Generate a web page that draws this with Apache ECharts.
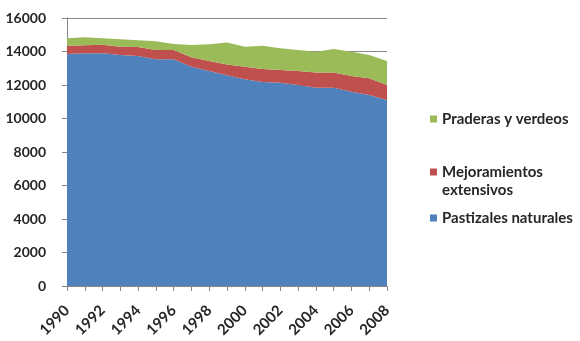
<!DOCTYPE html>
<html>
<head>
<meta charset="utf-8">
<script src="https://cdn.jsdelivr.net/npm/echarts@6/dist/echarts.min.js"></script>
<style>html,body{margin:0;padding:0;background:#fff;}#c{width:580px;height:341px;}</style>
</head>
<body>
<div id="c"></div>
<script>
var years = ['1990','1991','1992','1993','1994','1995','1996','1997','1998','1999','2000','2001','2002','2003','2004','2005','2006','2007','2008'];
var pastizales = [13850,13890,13890,13790,13730,13530,13530,13090,12840,12580,12340,12180,12140,12000,11840,11840,11600,11400,11100];
var mejoramientos = [500,480,520,500,540,560,560,560,590,650,750,770,760,840,900,900,940,1000,900];
var praderas = [440,480,380,440,400,520,360,740,1000,1300,1200,1400,1290,1250,1250,1410,1450,1390,1430];
var yTicks = [0,2000,4000,6000,8000,10000,12000,14000,16000];
var names = ['Pastizales naturales','Mejoramientos\nextensivos','Praderas y verdeos'];

var FONT = 'Lato';
var chart = echarts.init(document.getElementById('c'), null, {renderer:'canvas'});
function legend(name, top, icon, h){
  return {data:[name], orient:'vertical', left:430, top:top, padding:0, itemWidth:7, itemHeight:h, itemGap:0,
          icon:icon, itemStyle:{borderWidth:0},
          textStyle:{fontFamily: FONT, fontSize: 15, fontWeight:'bold', color:'#262626', lineHeight: 18},
          selectedMode:false};
}
chart.setOption({
  animation:false,
  textStyle:{fontFamily:FONT},
  grid:{left:67, right:193, top:18, bottom:55, containLabel:false},
  legend:[
    legend(names[2], 110, 'rect', 7),
    legend(names[1], 163, 'path://M0,0 M0,5.5 L7,5.5 L7,12.5 L0,12.5 Z M0,36', 36),
    legend(names[0], 209, 'rect', 7)
  ],
  xAxis:{
    type:'category', data:years, boundaryGap:false,
    axisLine:{lineStyle:{color:'#868686', width:1}},
    axisTick:{show:true, interval:0, length:5, lineStyle:{color:'#868686'}},
    axisLabel:{interval:1, rotate:45, fontFamily:FONT, fontSize:15, fontWeight:'bold', color:'#262626', margin:22}
  },
  yAxis:{
    type:'value', min:0, max:16000, interval:2000,
    axisLine:{show:true, lineStyle:{color:'#868686', width:1}},
    axisTick:{show:true, length:5, lineStyle:{color:'#868686'}},
    splitLine:{show:true, lineStyle:{color:'#868686', width:1}},
    axisLabel:{fontFamily:FONT, fontSize:14, fontWeight:'bold', color:'#262626', margin:21,
               formatter:function(v){ return String(v); }}
  },
  series:[
    {name:names[0], type:'line', stack:'t', data:pastizales, symbol:'none', lineStyle:{width:0}, areaStyle:{color:'#4f81bd', opacity:1}, itemStyle:{color:'#4f81bd'}},
    {name:names[1], type:'line', stack:'t', data:mejoramientos, symbol:'none', lineStyle:{width:0}, areaStyle:{color:'#c0504d', opacity:1}, itemStyle:{color:'#c0504d'}},
    {name:names[2], type:'line', stack:'t', data:praderas, symbol:'none', lineStyle:{width:0}, areaStyle:{color:'#9bbb59', opacity:1}, itemStyle:{color:'#9bbb59'}}
  ]
});
</script>
</body>
</html>
